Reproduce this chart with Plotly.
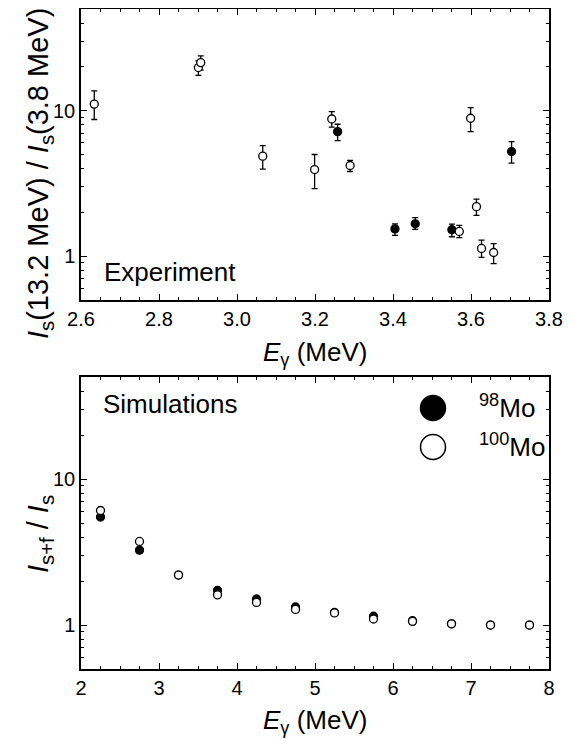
import math
import plotly.graph_objects as go

# ---------------- data ----------------
# Experiment, open circles
exp_open_x = [2.634, 2.901, 2.907, 3.066, 3.199, 3.243, 3.290, 3.570, 3.599, 3.614, 3.627, 3.658]
exp_open_y = [11.1, 19.8, 21.4, 4.87, 3.94, 8.77, 4.20, 1.48, 8.87, 2.19, 1.13, 1.06]
exp_open_hi = [13.7, 22.0, 23.8, 5.76, 5.00, 9.84, 4.55, 1.63, 10.5, 2.47, 1.29, 1.22]
exp_open_lo = [8.7, 17.5, 19.0, 3.97, 2.91, 7.70, 3.82, 1.34, 7.18, 1.91, 0.98, 0.89]

# Experiment, filled circles
exp_fill_x = [3.258, 3.405, 3.457, 3.551, 3.704]
exp_fill_y = [7.18, 1.54, 1.67, 1.52, 5.24]
exp_fill_hi = [8.07, 1.67, 1.84, 1.66, 6.13]
exp_fill_lo = [6.23, 1.39, 1.53, 1.36, 4.36]

# Simulations
sim_E = [2.25, 2.75, 3.25, 3.75, 4.25, 4.75, 5.25, 5.75, 6.25, 6.75, 7.25, 7.75]
sim_mo98 = [5.49, 3.26, 2.20, 1.73, 1.51, 1.33, 1.22, 1.15, 1.07, 1.02, 1.00, 1.00]
sim_mo100 = [6.09, 3.74, 2.20, 1.61, 1.43, 1.28, 1.21, 1.10, 1.06, 1.02, 1.00, 1.00]

y_major = [1, 10]
y_major_text = ["1", "10"]
y_minor = [0.6, 0.7, 0.8, 0.9, 2, 3, 4, 5, 6, 7, 8, 9, 20, 30, 40]

FONT = "Liberation Sans, Arial, sans-serif"

fig = go.Figure()

def eplus(y, hi):
    return [h - v for v, h in zip(y, hi)]

def eminus(y, lo):
    return [v - l for v, l in zip(y, lo)]

err_style = dict(type="data", symmetric=False, color="black", thickness=1.3, width=3)

fig.add_trace(go.Scatter(
    x=exp_fill_x, y=exp_fill_y, mode="markers", xaxis="x", yaxis="y",
    marker=dict(symbol="circle", size=8, color="black", line=dict(color="black", width=1.3)),
    error_y=dict(array=eplus(exp_fill_y, exp_fill_hi), arrayminus=eminus(exp_fill_y, exp_fill_lo), **err_style),
    showlegend=False))
fig.add_trace(go.Scatter(
    x=exp_open_x, y=exp_open_y, mode="markers", xaxis="x", yaxis="y",
    marker=dict(symbol="circle", size=8, color="white", line=dict(color="black", width=1.3)),
    error_y=dict(array=eplus(exp_open_y, exp_open_hi), arrayminus=eminus(exp_open_y, exp_open_lo), **err_style),
    showlegend=False))

fig.add_trace(go.Scatter(
    x=sim_E, y=sim_mo98, mode="markers", xaxis="x2", yaxis="y2", name="98Mo",
    marker=dict(symbol="circle", size=8, color="black", line=dict(color="black", width=1.3)),
    showlegend=False))
fig.add_trace(go.Scatter(
    x=sim_E, y=sim_mo100, mode="markers", xaxis="x2", yaxis="y2", name="100Mo",
    marker=dict(symbol="circle", size=8, color="white", line=dict(color="black", width=1.3)),
    showlegend=False))

axis_common = dict(
    showline=True, linecolor="black", linewidth=1.5, mirror="allticks",
    ticks="inside", ticklen=6, tickwidth=1.2, tickcolor="black",
    showgrid=False, zeroline=False, automargin=False,
    tickfont=dict(family=FONT, size=20, color="black"),
)

yrange = [math.log10(0.5), math.log10(50)]

# page has an 8px body margin: plot area should sit at page x 81..549, y 9..669
fig.update_layout(
    template="none",
    width=564, height=733,
    margin=dict(l=73, r=23, t=1, b=72, autoexpand=False),
    paper_bgcolor="white", plot_bgcolor="white",
    font=dict(family=FONT, color="black"),
    xaxis=dict(domain=[0, 1], anchor="y", range=[2.6, 3.8], tickmode="linear", tick0=2.6, dtick=0.2,
               tickformat=".1f",
               minor=dict(dtick=0.05, tick0=2.6, ticks="inside", ticklen=3.5, tickwidth=1, tickcolor="black"),
               **axis_common),
    yaxis=dict(domain=[0.5591, 1], anchor="x", type="log", range=yrange,
               tickmode="array", tickvals=y_major, ticktext=y_major_text,
               minor=dict(tickmode="array", tickvals=y_minor, ticks="inside", ticklen=3.5, tickwidth=1, tickcolor="black"),
               **axis_common),
    xaxis2=dict(domain=[0, 1], anchor="y2", range=[2, 8], tickmode="linear", tick0=2, dtick=1,
                minor=dict(dtick=0.25, tick0=2, ticks="inside", ticklen=3.5, tickwidth=1, tickcolor="black"),
                **axis_common),
    yaxis2=dict(domain=[0, 0.4424], anchor="x2", type="log", range=yrange,
                tickmode="array", tickvals=y_major, ticktext=y_major_text,
                minor=dict(tickmode="array", tickvals=y_minor, ticks="inside", ticklen=3.5, tickwidth=1, tickcolor="black"),
                **axis_common),
)

big = dict(family=FONT, size=26, color="black")
ytitle_font = dict(family=FONT, size=29, color="black")
ann = [
    dict(text="<i>I</i><sub>s</sub>(13.2 MeV) / <i>I</i><sub>s</sub>(3.8 MeV)", x=-0.0876, y=0.750,
         textangle=-90, xanchor="center", yanchor="middle", font=ytitle_font),
    dict(text="<i>I</i><sub>s+f</sub> / <i>I</i><sub>s</sub>", x=-0.0876, y=0.2045,
         textangle=-90, xanchor="center", yanchor="middle", font=ytitle_font),
    dict(text="<i>E</i><sub>γ</sub> (MeV)", x=0.5, y=0.478, xanchor="center", yanchor="middle"),
    dict(text="<i>E</i><sub>γ</sub> (MeV)", x=0.5, y=-0.079, xanchor="center", yanchor="middle"),
    dict(text="Experiment", x=0.0449, y=0.6015, xanchor="left", yanchor="middle"),
    dict(text="Simulations", x=0.0427, y=0.4015, xanchor="left", yanchor="middle"),
    dict(text="<sup>98</sup>Mo", x=(477 - 81) / 468, y=(669 - 406) / 660, xanchor="left", yanchor="middle"),
    dict(text="<sup>100</sup>Mo", x=(477 - 81) / 468, y=(669 - 445) / 660, xanchor="left", yanchor="middle"),
]
for a in ann:
    a.setdefault("font", big)
    a.update(xref="paper", yref="paper", showarrow=False)
fig.update_layout(annotations=ann)

# legend symbols
r = 12.5
for cy, fill in [(408, "black"), (447, "white")]:
    fig.add_shape(type="circle", xref="paper", yref="paper",
                  x0=(433 - r - 81) / 468, x1=(433 + r - 81) / 468,
                  y0=(669 - cy - r) / 660, y1=(669 - cy + r) / 660,
                  fillcolor=fill, line=dict(color="black", width=1.5))

fig.write_html("out.html")
